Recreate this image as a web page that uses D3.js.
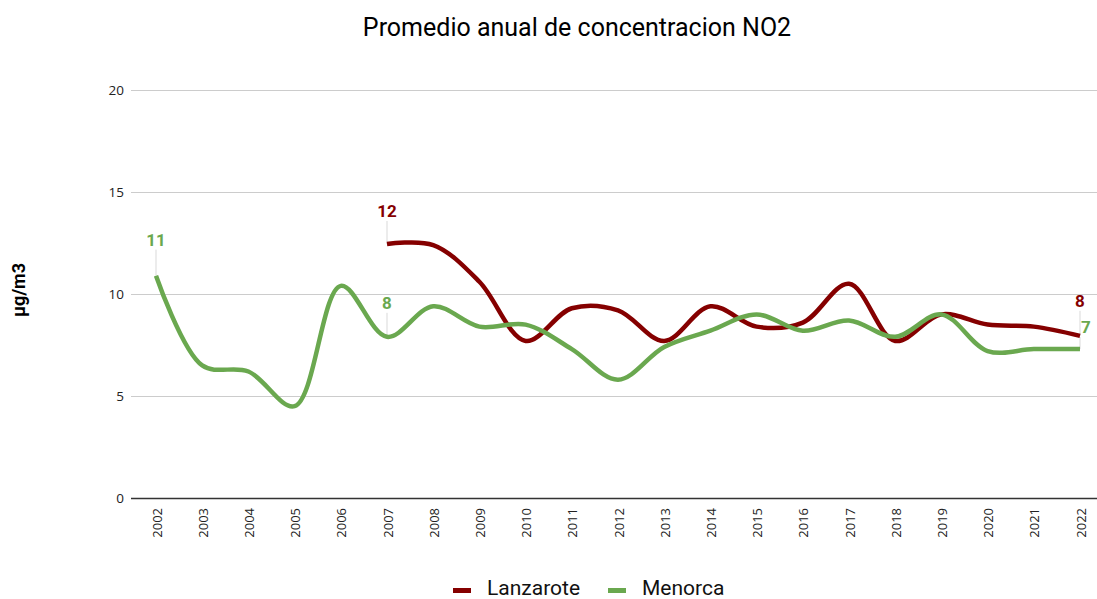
<!DOCTYPE html>
<html>
<head>
<meta charset="utf-8">
<script src="https://cdn.jsdelivr.net/npm/d3@7"></script>
<style>
  html, body { margin: 0; padding: 0; background: #fff; }
  svg { display: block; }
</style>
</head>
<body>
<svg id="chart" width="1097" height="599"></svg>
<script>
// Annual mean NO2 concentration (µg/m3)
const years = ["2002","2003","2004","2005","2006","2007","2008","2009","2010","2011","2012",
               "2013","2014","2015","2016","2017","2018","2019","2020","2021","2022"];
const menorca = [10.9, 6.5, 6.2, 4.5, 10.4, 7.9, 9.4, 8.4, 8.5, 7.3, 5.8,
                 7.4, 8.2, 9.0, 8.2, 8.7, 7.9, 9.0, 7.2, 7.3, 7.3];
const lanzarote = [null, null, null, null, null, 12.45, 12.4, 10.6, 7.7, 9.3, 9.2,
                   7.7, 9.4, 8.4, 8.6, 10.5, 7.7, 9.0, 8.5, 8.4, 7.95];
const yTicks = [0, 5, 10, 15, 20];
const seriesNames = ["Lanzarote", "Menorca"];
const seriesColors = ["#850000", "#6aa84f"];
// indices of points that carry a value label
const lanzaroteLabelled = [5, 20];
const menorcaLabelled = [0, 5, 20];

const svg = d3.select("#chart");
const font = "Roboto, 'Open Sans', sans-serif";
const tickFont = "'Open Sans', 'DejaVu Sans', sans-serif";

const x = d3.scalePoint().domain(years).range([156, 1080]);
const y = d3.scaleLinear().domain([0, 20]).range([498, 90]);
const gridLeft = 131, gridRight = 1097;

// title
svg.append("text")
  .attr("x", 577).attr("y", 36)
  .attr("text-anchor", "middle")
  .attr("font-family", font).attr("font-size", 25).attr("fill", "#000")
  .text("Promedio anual de concentracion NO2");

// y axis title
svg.append("text")
  .attr("transform", "translate(25,290) rotate(-90)")
  .attr("text-anchor", "middle")
  .attr("font-family", font).attr("font-size", 18).attr("font-weight", "bold").attr("fill", "#000")
  .text("µg/m3");

// gridlines and y tick labels
const yAxis = d3.axisLeft(y).tickValues(yTicks).tickSize(-(gridRight - gridLeft)).tickPadding(7);
const gy = svg.append("g").attr("transform", `translate(${gridLeft},0)`).call(yAxis);
gy.select(".domain").remove();
gy.selectAll(".tick line").attr("stroke", "#cccccc").attr("stroke-width", 1);
gy.selectAll(".tick").filter(d => d === 0).select("line").attr("stroke", "#333").attr("stroke-width", 1.3);
gy.selectAll(".tick text").attr("font-family", tickFont).attr("font-size", 13.5).attr("fill", "#222");

// x axis labels (rotated)
const xAxis = d3.axisBottom(x).tickSize(0).tickPadding(0);
const gx = svg.append("g").attr("transform", "translate(0,498)").call(xAxis);
gx.select(".domain").remove();
gx.selectAll(".tick text")
  .attr("font-family", tickFont).attr("font-size", 13).attr("fill", "#222")
  .attr("text-anchor", "end")
  .attr("dy", null)
  .attr("transform", "translate(5,10) rotate(-90)")
  .attr("x", 0).attr("y", 0);

// lines
const line = d3.line()
  .defined(d => d.v !== null)
  .x(d => x(d.year))
  .y(d => y(d.v))
  .curve(d3.curveCatmullRom.alpha(0.5));

const series = [lanzarote, menorca].map((vals, i) => ({
  name: seriesNames[i],
  color: seriesColors[i],
  points: years.map((yr, j) => ({ year: yr, v: vals[j] }))
}));

// value label placement relative to each labelled point
const labelSpecs = [
  { s: 0, idx: lanzaroteLabelled[0], dy: -33, dx: 0 },
  { s: 0, idx: lanzaroteLabelled[1], dy: -35, dx: 0 },
  { s: 1, idx: menorcaLabelled[0], dy: -36, dx: 0 },
  { s: 1, idx: menorcaLabelled[1], dy: -34, dx: 0 },
  { s: 1, idx: menorcaLabelled[2], dy: -22, dx: 6 }
];

// leader lines (drawn beneath the series lines)
const lead = svg.append("g");
labelSpecs.forEach(sp => {
  const p = series[sp.s].points[sp.idx];
  const px = x(p.year), py = y(p.v);
  lead.append("line")
    .attr("x1", px).attr("x2", px)
    .attr("y1", py + sp.dy + 10).attr("y2", py)
    .attr("stroke", "#d9d9d9").attr("stroke-width", 1);
});

svg.append("g").selectAll("path")
  .data(series)
  .join("path")
  .attr("d", d => line(d.points))
  .attr("fill", "none")
  .attr("stroke", d => d.color)
  .attr("stroke-width", 4.5)
  .attr("stroke-linecap", "butt")
  .attr("stroke-linejoin", "round");

// value labels
const fmt = d3.format(".0f");
labelSpecs.forEach(sp => {
  const p = series[sp.s].points[sp.idx];
  svg.append("text")
    .attr("x", x(p.year) + sp.dx)
    .attr("y", y(p.v) + sp.dy + 6)
    .attr("text-anchor", "middle")
    .attr("font-family", font).attr("font-size", 17).attr("font-weight", "bold")
    .attr("fill", series[sp.s].color)
    .text(fmt(p.v));
});

// legend
const legend = svg.append("g");
const legendItems = [
  { name: seriesNames[0], color: seriesColors[0], x: 453 },
  { name: seriesNames[1], color: seriesColors[1], x: 608 }
];
legendItems.forEach(it => {
  legend.append("rect")
    .attr("x", it.x).attr("y", 588).attr("width", 18).attr("height", 5)
    .attr("fill", it.color);
  legend.append("text")
    .attr("x", it.x + 34).attr("y", 595)
    .attr("font-family", font).attr("font-size", 21).attr("fill", "#111")
    .text(it.name);
});
</script>
</body>
</html>
